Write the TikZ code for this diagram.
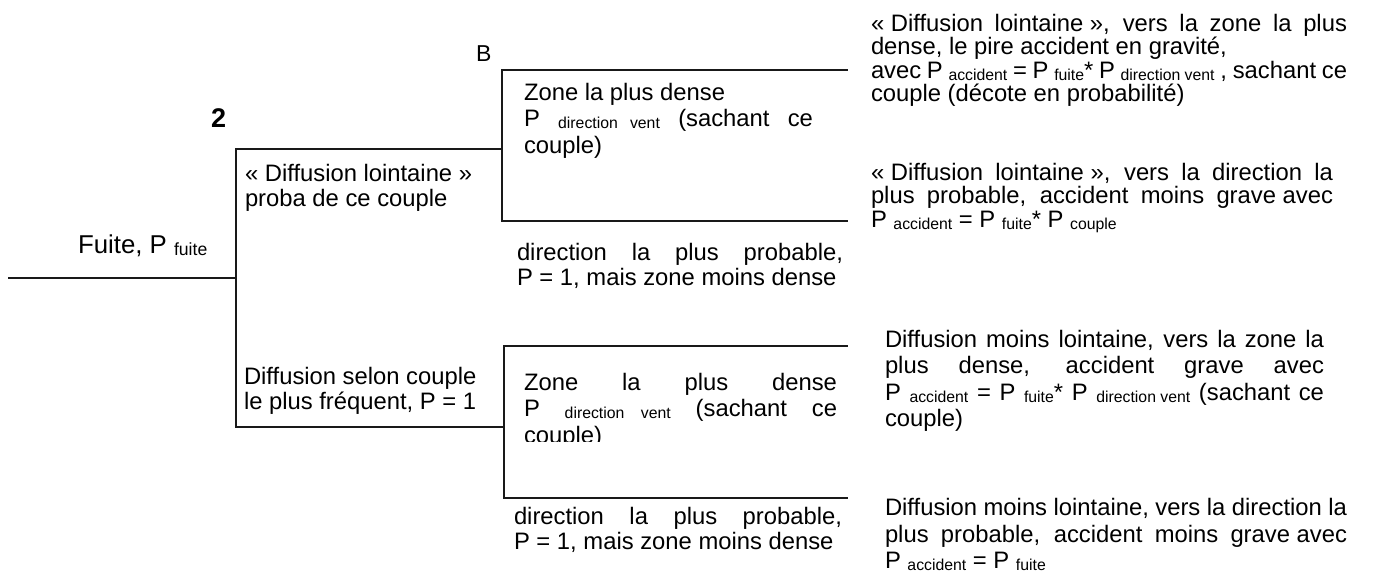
\documentclass[tikz,border=0pt]{standalone}
\usepackage{fontspec}
\setmainfont{Liberation Sans}
\newcommand{\subsz}{\fontsize{7.9pt}{9pt}\selectfont}
\newcommand{\sbs}[1]{\raisebox{-1pt}{\subsz #1}}
\newcommand{\ssp}{{\subsz\ }}
\newcommand{\nbs}{\hspace{0.278em}}
\newcommand{\jl}[2]{{\spaceskip=0pt\xspaceskip=0pt\makebox[#1][s]{#2}}}
\begin{document}
\begin{tikzpicture}[x=0.5pt,y=-0.5pt,
  branch/.style={line width=1pt,draw=black!90,line cap=rect},
  txt/.style={anchor=base west,inner sep=0pt,outer sep=0pt,align=flush left},
  fsA/.style={font={\fontsize{11.9pt}{11.75pt}\selectfont\lineskiplimit=-20pt\spaceskip=0pt\xspaceskip=0pt}},
  fsB/.style={font={\fontsize{11.9pt}{13.3pt}\selectfont\lineskiplimit=-20pt\spaceskip=0pt\xspaceskip=0pt}},
  fsC/.style={font={\fontsize{11.9pt}{12.9pt}\selectfont\lineskiplimit=-20pt\spaceskip=0pt\xspaceskip=0pt}}]
\useasboundingbox (0,0) rectangle (1381,574);
% tree skeleton
\coordinate (r0) at (9,278);
\coordinate (n1) at (236,278);
\coordinate (n1t) at (236,149);
\coordinate (n1b) at (236,427);
\coordinate (n2) at (502,149);
\coordinate (n2t) at (502,70);
\coordinate (n2b) at (502,221);
\coordinate (e1) at (847,70);
\coordinate (e2) at (847,221);
\coordinate (n3) at (504,427);
\coordinate (n3t) at (504,346);
\coordinate (n3b) at (504,498);
\coordinate (e3) at (847,346);
\coordinate (e4) at (847,498);
\draw[branch] (r0) -- (n1);
\draw[branch] (n1t) -- (n1b);
\draw[branch] (n1t) -- (n2);
\draw[branch] (n1b) -- (n3);
\draw[branch] (n2t) -- (n2b);
\draw[branch] (n2t) -- (e1);
\draw[branch] (n2b) -- (e2);
\draw[branch] (n3t) -- (n3b);
\draw[branch] (n3t) -- (e3);
\draw[branch] (n3b) -- (e4);
% labels
\node[txt,font={\fontsize{13.5pt}{14pt}\selectfont\bfseries}] (two) at (211,127) {2};
\node[txt,font={\fontsize{11.5pt}{12pt}\selectfont}] (bee) at (476,61) {B};
\node[txt,font={\fontsize{12.9pt}{14pt}\selectfont}] (fuite) at (78,253)
  {Fuite, P \raisebox{-1pt}{\fontsize{8.8pt}{10pt}\selectfont fuite}};
\node[txt,fsC,text width=130pt] (dl) at (245,181)
  {«\nbs Diffusion lointaine\nbs»\\proba de ce couple};
\node[txt,fsC,text width=130pt] (ds) at (244,384)
  {Diffusion selon couple\\le plus fréquent, P = 1};
% upper sub-branch texts
\node[txt,fsB,text width=160pt] (zu) at (524,100)
  {Zone la plus dense\\
   \jl{144.5pt}{P \sbs{direction}\ssp\sbs{vent} (sachant ce}\\
   couple)};
\node[txt,fsC,text width=170pt] (du) at (517,260)
  {\jl{163pt}{direction la plus probable,}\\P = 1, mais zone moins dense};
% lower sub-branch texts
\begin{scope}
\clip (500,330) rectangle (860,441);
\node[txt,fsB,text width=170pt] (zl) at (524,390)
  {\jl{156.5pt}{Zone la plus dense}\\
   \jl{156.5pt}{P \sbs{direction}\ssp\sbs{vent} (sachant ce}\\
   couple)};
\end{scope}
\node[txt,fsC,text width=170pt] (dlo) at (514,524)
  {\jl{164pt}{direction la plus probable,}\\P = 1, mais zone moins dense};
% outcomes
\node[txt,fsA,text width=245pt] (o1) at (871,31)
  {\jl{238pt}{«\nbs Diffusion lointaine\nbs», vers la zone la plus}\\
   dense, le pire accident en gravité,\\
   \jl{238pt}{avec P \sbs{accident} = P \sbs{fuite}* P \sbs{direction\ssp vent} , sachant ce}\\
   couple (décote en probabilité)};
\node[txt,fsA,text width=245pt] (o2) at (871,180)
  {\jl{231pt}{«\nbs Diffusion lointaine\nbs», vers la direction la}\\
   \jl{231pt}{plus probable, accident moins grave\nbs avec}\\
   P \sbs{accident} = P \sbs{fuite}* P \sbs{couple}};
\node[txt,fsB,text width=245pt] (o3) at (885,347)
  {\jl{219.5pt}{Diffusion moins lointaine, vers la zone la}\\
   \jl{219.5pt}{plus dense, accident grave avec}\\
   \jl{219.5pt}{P \sbs{accident} = P \sbs{fuite}* P \sbs{direction\ssp vent} (sachant ce}\\
   couple)};
\node[txt,fsB,text width=245pt] (o4) at (885,515.5)
  {\jl{231pt}{Diffusion moins lointaine, vers la direction la}\\
   \jl{231pt}{plus probable, accident moins grave\nbs avec}\\
   P \sbs{accident} = P \sbs{fuite}};
\end{tikzpicture}
\end{document}
